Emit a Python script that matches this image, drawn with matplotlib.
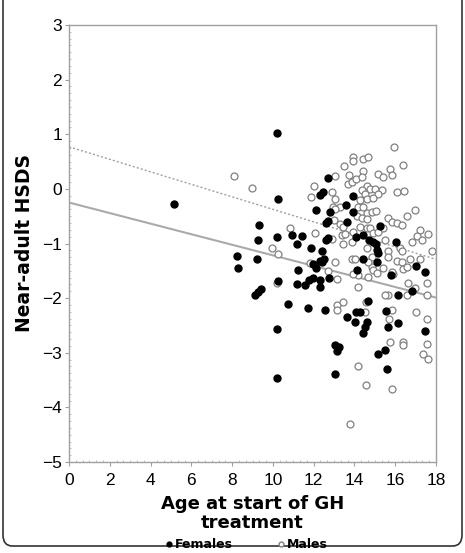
import matplotlib
matplotlib.use('Agg')
import matplotlib.pyplot as plt
from matplotlib.patches import FancyBboxPatch
from matplotlib.lines import Line2D
from matplotlib.ticker import AutoMinorLocator

# Age at start of GH treatment / near-adult HSDS
fem_age = [5.16, 10.22, 10.23, 12.72, 12.48, 12.31, 13.95, 12.09, 12.78, 13.58,
           13.93, 12.70, 12.60, 13.63, 9.33, 15.23, 9.28, 10.20, 10.94, 11.44,
           11.16, 12.62, 12.70, 14.10, 14.40, 14.73, 14.92, 15.06, 15.12, 15.17,
           16.06, 11.88, 12.42, 11.98, 12.11, 12.31, 12.42, 12.52, 14.44, 15.12,
           8.26, 8.29, 9.21, 11.21, 14.14, 15.79, 17.03, 17.47, 10.25, 11.17,
           11.57, 11.79, 11.97, 12.33, 12.73, 12.32, 16.15, 16.84, 9.13, 9.28,
           9.44, 10.72, 11.73, 12.58, 14.68, 15.54, 13.62, 14.08, 14.26, 14.03,
           14.60, 14.54, 14.44, 15.63, 16.12, 17.44, 10.18, 13.05, 13.22, 13.13,
           15.49, 15.15, 15.61, 13.06, 10.18]
fem_hsds = [-0.28, 1.03, -0.19, 0.20, -0.05, -0.12, -0.13, -0.39, -0.42, -0.30,
            -0.42, -0.58, -0.62, -0.61, -0.67, -0.68, -0.94, -0.88, -0.85, -0.86,
            -1.01, -0.93, -0.90, -0.88, -0.85, -0.94, -0.97, -1.00, -1.12, -1.18,
            -0.97, -1.09, -1.14, -1.38, -1.44, -1.32, -1.34, -1.29, -1.29, -1.34,
            -1.23, -1.45, -1.28, -1.49, -1.49, -1.58, -1.41, -1.53, -1.68, -1.74,
            -1.76, -1.66, -1.64, -1.66, -1.63, -1.80, -1.95, -1.87, -1.95, -1.89,
            -1.83, -2.11, -2.18, -2.21, -2.05, -2.23, -2.34, -2.26, -2.26, -2.43,
            -2.43, -2.52, -2.64, -2.52, -2.45, -2.60, -2.57, -2.85, -2.90, -2.97,
            -2.95, -3.03, -3.29, -3.38, -3.47]

male_age = [8.09, 8.97, 15.92, 16.38, 13.94, 13.93, 14.44, 14.68, 13.49, 13.05,
            13.71, 13.69, 13.88, 14.10, 14.43, 14.36, 15.17, 15.40, 15.74, 15.83,
            12.01, 12.88, 16.07, 16.42, 14.64, 14.76, 15.00, 15.34, 14.38, 14.52,
            15.17, 14.27, 14.60, 14.92, 11.87, 13.05, 12.96, 13.29, 14.19, 14.43,
            16.98, 16.57, 14.60, 14.85, 15.06, 14.11, 14.36, 14.63, 15.66, 15.84,
            16.07, 13.00, 17.21, 13.29, 14.27, 14.60, 16.32, 10.84, 12.05, 13.45,
            13.94, 14.76, 14.92, 15.39, 15.17, 17.61, 17.05, 17.30, 16.81, 15.50,
            15.65, 16.23, 16.32, 13.45, 13.86, 13.37, 13.54, 12.88, 17.79, 14.60,
            13.86, 14.03, 14.85, 13.05, 15.66, 16.07, 16.32, 16.72, 17.21, 14.85,
            15.41, 14.68, 14.19, 14.68, 14.92, 16.40, 16.56, 15.90, 16.64, 17.54,
            13.13, 14.19, 15.66, 15.50, 16.58, 16.97, 17.54, 13.13, 13.44, 13.16,
            14.52, 14.57, 15.83, 15.69, 17.03, 17.54, 15.74, 16.37, 16.40, 17.56,
            17.34, 17.62, 14.19, 14.57, 15.84, 13.78, 10.26, 9.94, 10.19, 11.82,
            13.94, 15.09, 12.72, 15.83, 13.05]
male_hsds = [0.24, 0.01, 0.77, 0.44, 0.59, 0.51, 0.54, 0.59, 0.42, 0.24,
             0.25, 0.09, 0.13, 0.18, 0.33, 0.22, 0.27, 0.22, 0.36, 0.25,
             0.05, -0.06, -0.06, -0.04, 0.05, -0.01, 0.00, -0.02, -0.02, -0.10,
             -0.09, -0.20, -0.19, -0.17, -0.14, -0.19, -0.33, -0.33, -0.33, -0.34,
             -0.39, -0.50, -0.45, -0.42, -0.40, -0.50, -0.54, -0.56, -0.54, -0.60,
             -0.63, -0.57, -0.75, -0.64, -0.69, -0.72, -0.67, -0.72, -0.80, -0.69,
             -0.79, -0.71, -0.80, -0.72, -0.79, -0.83, -0.86, -0.94, -0.97, -0.94,
             -1.14, -1.09, -1.14, -1.00, -0.98, -0.85, -0.82, -0.91, -1.14, -1.09,
             -1.28, -1.29, -1.24, -1.34, -1.24, -1.32, -1.34, -1.28, -1.28, -1.43,
             -1.45, -1.34, -1.58, -1.61, -1.49, -1.46, -1.43, -1.55, -1.73, -1.73,
             -1.65, -1.79, -1.95, -1.95, -1.95, -1.81, -1.95, -2.13, -2.08, -2.21,
             -2.26, -2.07, -2.22, -2.39, -2.25, -2.39, -2.80, -2.81, -2.85, -2.84,
             -3.03, -3.12, -3.24, -3.59, -3.66, -4.31, -1.19, -1.09, -1.73, -1.36,
             -1.55, -1.54, -1.50, -1.52, -0.36]

# regression lines (end points at age 0 and 18)
fit_age = [0, 18]
fem_fit = [-0.25, -1.99]
male_fit = [0.77, -1.29]

fig = plt.figure(figsize=(4.65, 5.53), dpi=100)
ax = fig.add_axes([69 / 465, 1 - 462 / 553, (436 - 69) / 465, (462 - 25) / 553])

ax.plot(fit_age, male_fit, color='#a0a0a0', lw=1.0, ls=(0, (1.5, 1.5)), zorder=1)
ax.plot(fit_age, fem_fit, color='#aaaaaa', lw=1.5, zorder=1)
ax.scatter(male_age, male_hsds, s=25, facecolors='white', edgecolors='#808080',
           linewidths=0.9, zorder=2)
ax.scatter(fem_age, fem_hsds, s=25, color='black', zorder=3)

ax.set_xlim(0, 18)
ax.set_ylim(-5, 3)
ax.set_xticks(range(0, 19, 2))
ax.set_yticks(range(-5, 4))
ax.set_yticklabels([str(v).replace('-', '\u2212') for v in range(-5, 4)])
ax.xaxis.set_minor_locator(AutoMinorLocator(6))
ax.yaxis.set_minor_locator(AutoMinorLocator(8))
for s in ax.spines.values():
    s.set_color('#a0a0a0')
    s.set_linewidth(1.0)
ax.tick_params(which='major', length=3, color='#a0a0a0', labelsize=12.5, pad=2)
ax.tick_params(axis='x', which='major', pad=5)
ax.tick_params(which='minor', length=1.5, color='#b0b0b0', direction='in')
for lab in ax.get_xticklabels() + ax.get_yticklabels():
    lab.set_family('Liberation Sans')

ax.set_xlabel('Age at start of GH\ntreatment', fontsize=13, fontweight='bold',
              linespacing=1.05, labelpad=5)
ax.set_ylabel('Near-adult HSDS', fontsize=13.5, fontweight='bold', labelpad=6)

handles = [Line2D([], [], ls='none', marker='o', ms=3.5, color='black'),
           Line2D([], [], ls='none', marker='o', ms=3.5, mfc='white', mec='#808080')]
fig.legend(handles, ['Females', 'Males'], loc='lower center', bbox_to_anchor=(0.53, -0.017),
           ncol=2, frameon=False, handlelength=0.6, handletextpad=0.2, columnspacing=3.5,
           prop={'weight': 'bold', 'size': 9})

# rounded outer frame
frame = FancyBboxPatch((3 / 465, 7 / 553), 459 / 465, 560 / 553,
                       boxstyle='round,pad=0,rounding_size=0.02',
                       transform=fig.transFigure, fill=False, ec='#333333', lw=1.2)
fig.patches.append(frame)

fig.savefig('out.png', dpi=100)
